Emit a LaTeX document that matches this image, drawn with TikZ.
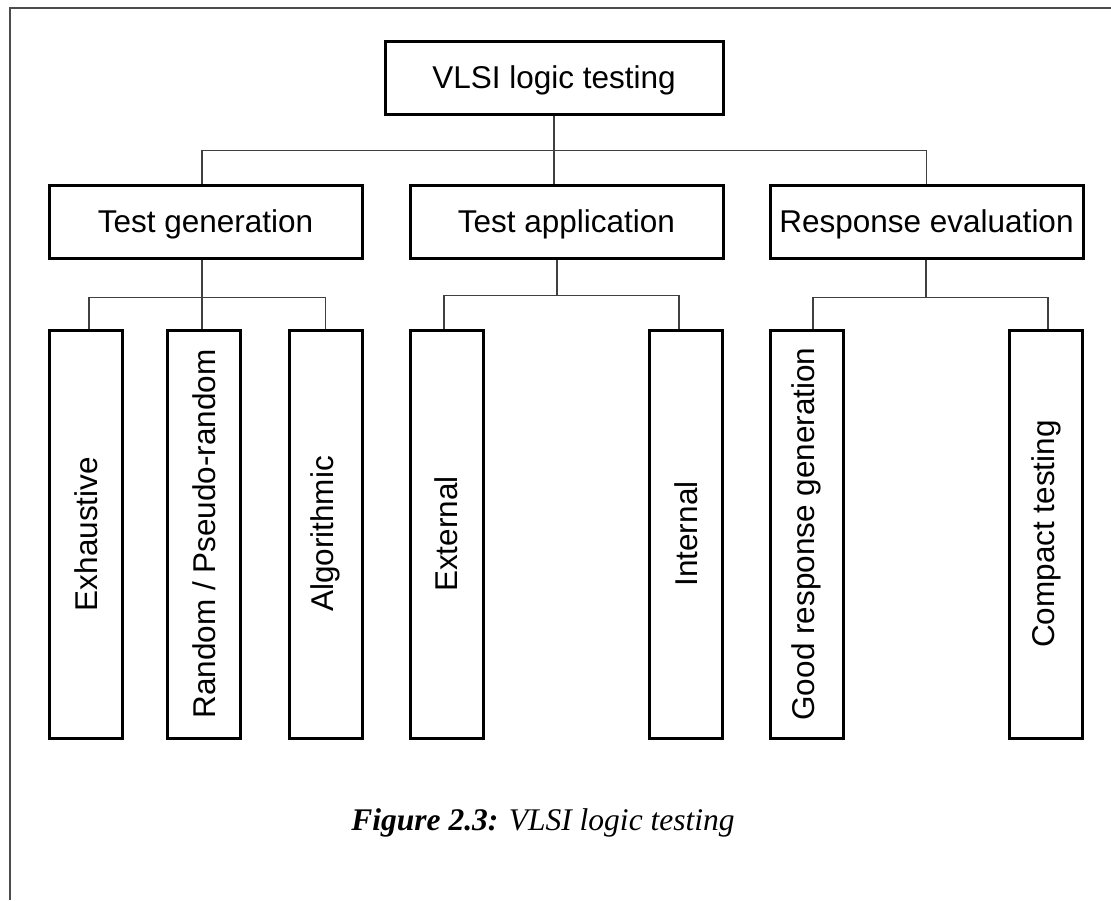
\documentclass[tikz,border=0pt]{standalone}
\usepackage{fontspec}
\setmainfont{Liberation Serif}
\setsansfont{Liberation Sans}
\usepackage{graphicx}
\usepackage{xcolor}
\usetikzlibrary{positioning}

\begin{document}
\begin{tikzpicture}[
    x=1pt,y=-1pt,
    box/.style={rectangle,draw=black,line width=3pt,inner sep=0pt,minimum width=313pt,minimum height=73pt,text height=22.6pt,text depth=0pt,font=\sffamily\fontsize{31.5}{38}\selectfont},
    leaf/.style={rectangle,draw=black,line width=3pt,inner sep=0pt,minimum width=73pt,minimum height=408pt,font=\sffamily\fontsize{31.5}{38}\selectfont},
    link/.style={draw=black!75,line width=1.3pt},
    frame/.style={draw=black!70,line width=1.3pt}
]
\useasboundingbox (0,0) rectangle (1111,900);
\draw[frame] (10,900) -- (10,8) -- (1111,8);

\node[box,minimum width=338pt] (top) at (554,77.5) {VLSI logic testing};
\node[box] (tg) at (205.5,221.5) {Test generation};
\node[box] (ta) at (566.5,221.5) {Test application};
\node[box] (re) at (926.5,221.5) {Response evaluation};

\node[leaf] (exh) at (86,534) {\rotatebox{90}{Exhaustive}};
\node[leaf] (rnd) at (204,534) {\rotatebox{90}{Random / Pseudo-random}};
\node[leaf] (alg) at (325.5,534) {\rotatebox{90}{Algorithmic}};
\node[leaf] (ext) at (446.5,534) {\rotatebox{90}{External}};
\node[leaf] (int) at (686,534) {\rotatebox{90}{Internal}};
\node[leaf] (good) at (806.5,534) {\rotatebox{90}{Good response generation}};
\node[leaf] (cmp) at (1046,534) {\rotatebox{90}{Compact testing}};

\coordinate (topbus) at ([yshift=-35pt]top.south);
\draw[link] (top.south) -- (top.south |- ta.north);
\draw[link] ([xshift=-3.5pt]tg.north) |- (topbus) -| (re.north);

\coordinate (tgbus) at ([xshift=-3.5pt,yshift=-38pt]tg.south);
\draw[link] ([xshift=-3.5pt]tg.south) -- (tgbus |- rnd.north);
\draw[link] ([xshift=3pt]exh.north) |- (tgbus) -| (alg.north);

\coordinate (tabus) at ([xshift=-9.5pt,yshift=-36pt]ta.south);
\draw[link] ([xshift=-9.5pt]ta.south) -- (tabus);
\draw[link] ([xshift=-2.5pt]ext.north) |- (tabus) -| ([xshift=-7pt]int.north);

\coordinate (rebus) at ([xshift=-0.5pt,yshift=-38pt]re.south);
\draw[link] ([xshift=-0.5pt]re.south) -- (rebus);
\draw[link] ([xshift=6.5pt]good.north) |- (rebus) -| ([xshift=2pt]cmp.north);

\node[anchor=base,font=\fontsize{31.5}{38}\selectfont] (caption) at (543,830) {\textbf{\textit{Figure 2.3:}} \textit{VLSI logic testing}};

\end{tikzpicture}
\end{document}
